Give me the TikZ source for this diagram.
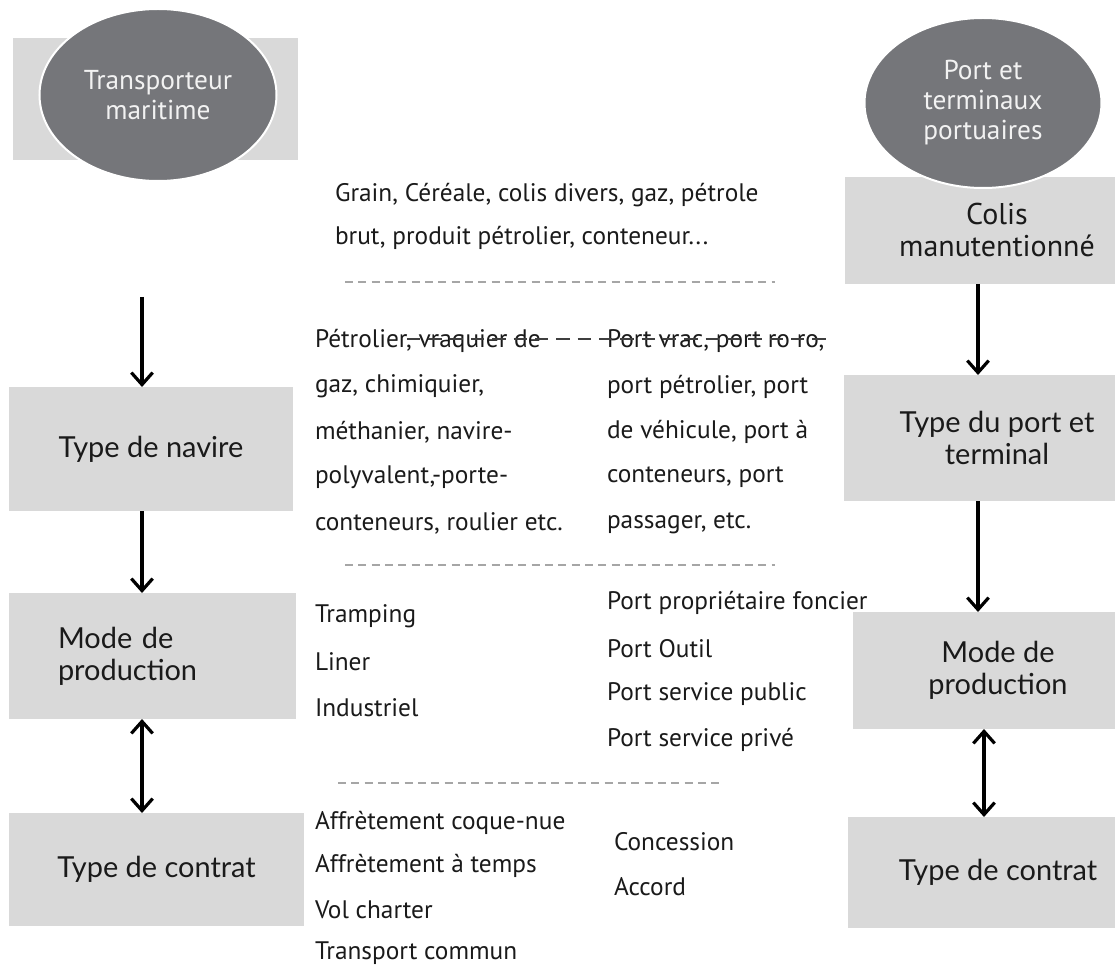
\documentclass[tikz,border=0pt]{standalone}
\usepackage{fontspec}
\setmainfont{PT Sans}
\newfontfamily\boxfont{Lato}
\usetikzlibrary{arrows.meta,shapes.geometric}
\definecolor{boxgray}{HTML}{D9D9D9}
\definecolor{ellgray}{HTML}{75767A}
\definecolor{ellfg}{HTML}{F2F2F2}
\definecolor{sepgray}{HTML}{A6A6A6}
\definecolor{strikegray}{HTML}{3F3F3F}
\definecolor{textblack}{HTML}{1A1A1A}
\begin{document}
\begin{tikzpicture}[
        x=0.75pt, y=-0.75pt,
        every node/.style={inner sep=0pt, outer sep=0pt},
        stage/.style={fill=boxgray, text=textblack, align=center, font=\boxfont\fontsize{21.7}{24}\selectfont},
        actor/.style={ellipse, fill=ellgray, draw=white, line width=1.5pt, text=ellfg, align=center, font=\fontsize{20.5}{22.5}\selectfont},
        entry/.style={anchor=west, text=textblack, font=\fontsize{19}{21}\selectfont},
        flow/.style={draw, line width=2.4pt, -{Straight Barb[length=9pt,width=16pt]}},
        flowboth/.style={draw, line width=2.4pt, {Straight Barb[length=9pt,width=16pt]}-{Straight Barb[length=9pt,width=16pt]}},
        divider/.style={draw=sepgray, line width=1.2pt, dash pattern=on 6pt off 4pt},
        strike/.style={draw=strikegray, line width=1pt, dash pattern=on 10pt off 6pt},
    ]
    \path[use as bounding box, clip] (0,0) rectangle (1115,970);

    % left column
    \node[fill=boxgray, minimum width=213.75pt, minimum height=91.5pt] (tmback) at (155.5,99) {};
    \node[actor, minimum width=177.75pt, minimum height=129pt] (tm) at (158,95) {Transporteur\\maritime};
    \node[stage, minimum width=213pt, minimum height=93pt] (navire) at (151,449) {Type de navire};
    \node[stage, minimum width=215.25pt, minimum height=94.5pt, text width=141.75pt, align=left] (lmode) at (152.5,656) {Mode de\\production};
    \node[stage, minimum width=221.25pt, minimum height=84.75pt] (lcontrat) at (156.5,869.5) {Type de contrat};

    % right column
    \node[stage, font=\fontsize{22.5}{24}\selectfont, minimum width=228pt, minimum height=80.25pt] (colis) at (997,230.5) {Colis\\manutentionné};
    \node[actor, minimum width=177.75pt, minimum height=127.5pt] (ptp) at (983,103) {Port et\\terminaux\\portuaires};
    \node[stage, minimum width=229.5pt, minimum height=94.5pt] (rtype) at (997,438) {Type du port et\\terminal};
    \node[stage, minimum width=217.5pt, minimum height=87.75pt] (rmode) at (998,670.5) {Mode de\\production};
    \node[stage, minimum width=225pt, minimum height=83.25pt] (rcontrat) at (998,872.5) {Type de contrat};

    % arrows
    \coordinate (lstart) at (142,297);
    \coordinate (rline) at (978,0);
    \draw[flow] (lstart) -- (lstart |- navire.north);
    \draw[flow] (navire.south -| lstart) -- (lmode.north -| lstart);
    \draw[flowboth] (lmode.south -| lstart) -- (lcontrat.north -| lstart);
    \draw[flow] (colis.south -| rline) -- (rtype.north -| rline);
    \draw[flow] (rtype.south -| rline) -- (rmode.north -| rline);
    \draw[flowboth] ([xshift=4.5pt]rmode.south -| rline) -- ([xshift=4.5pt]rcontrat.north -| rline);

    % middle lists
    \node[entry] (cargo1) at (335,195) {Grain,\ Céréale, colis divers, gaz, pétrole};
    \node[entry] (cargo2) at (335,238) {brut, produit pétrolier, conteneur...};
    \foreach \txt [count=\i] in {{Pétrolier, vraquier de}, {gaz, chimiquier,}, {méthanier, navire-}, {polyvalent,-porte-}, {conteneurs, roulier etc.}}
        \node[entry] (ship\i) at (315,{341+45.5*(\i-1)}) {\txt};
    \foreach \txt [count=\i] in {{Port vrac, port ro ro,}, {port pétrolier, port}, {de véhicule, port à}, {conteneurs, port}, {passager, etc.}}
        \node[entry] (term\i) at (607,{341+45.5*(\i-1)}) {\txt};
    \foreach \txt [count=\i] in {Tramping, Liner, Industriel}
        \node[entry] (prod\i) at (315,{616+46*(\i-1)}) {\txt};
    \foreach \txt [count=\i] in {Port propriétaire foncier, Port Outil, Port service public, Port service privé}
        \node[entry] (pprod\i) at (607,{603+45.7*(\i-1)}) {\txt};
    \foreach \txt [count=\i] in {Affrètement coque-nue, Affrètement à temps, Vol charter, Transport commun}
        \node[entry] (ctr\i) at (315,{823+43.3*(\i-1)}) {\txt};
    \foreach \txt [count=\i] in {Concession, Accord}
        \node[entry] (pctr\i) at (614,{842+45*(\i-1)}) {\txt};

    % dashed lines
    \draw[strike] ([xshift=69pt, yshift=1.5pt]ship1.west) -- ([xshift=6pt, yshift=1.5pt]term1.east);
    \draw[divider] (345,282) -- (775,282);
    \draw[divider] (345,565) -- (775,565);
    \draw[divider] (338,783) -- (720,783);
\end{tikzpicture}
\end{document}
